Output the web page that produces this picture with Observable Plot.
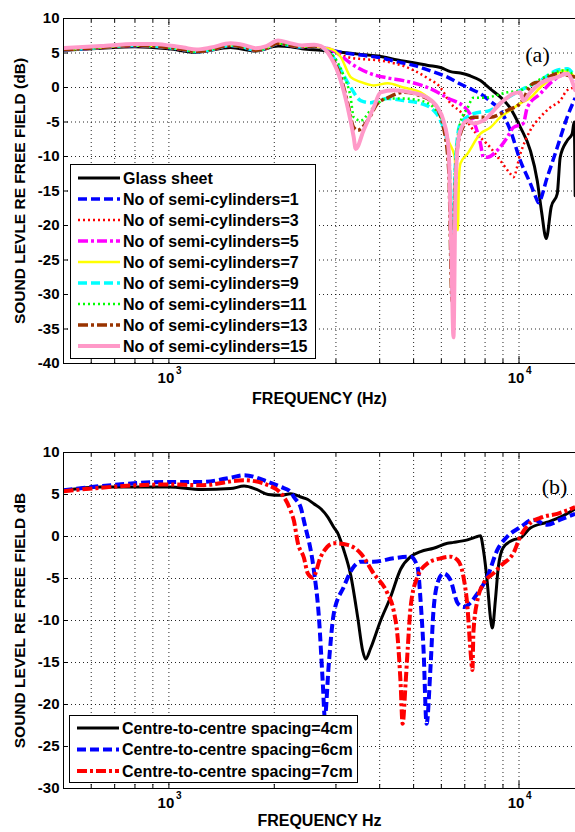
<!DOCTYPE html>
<html><head><meta charset="utf-8">
<script src="https://cdn.jsdelivr.net/npm/d3@7"></script>
<script src="https://cdn.jsdelivr.net/npm/@observablehq/plot@0.6"></script>
<style>
body{margin:0;background:#fff;}
#wrap{position:relative;width:575px;height:832px;overflow:hidden;background:#fff;}
#wrap svg{position:absolute;left:0;}
</style></head><body><div id="wrap"></div>
<script>
// ---------- shared axis values ----------
const freqDomain = [500, 14500];
const xGridTicks = [600,700,800,900,1000,2000,3000,4000,5000,6000,7000,8000,9000,10000];
const xMinorTicks = [600,700,800,900,2000,3000,4000,5000,6000,7000,8000,9000];
const xMajorTicks = [1000,10000];
const xTickBase = "10";
const xTickExp = ["3","4"];
const yTicksA = [-40,-35,-30,-25,-20,-15,-10,-5,0,5,10];
const yTicksB = [-30,-25,-20,-15,-10,-5,0,5,10];

// ---------- panel (a) data: [frequency Hz, dB] ----------
const lowBand = [[500,5.5],[560,5.6],[640,5.8],[720,6.0],[800,6.1],[900,6.0],[1000,5.8],[1100,5.5],[1200,5.2],[1320,5.5],[1500,6.1],[1650,5.8],[1770,5.4],[1900,5.7],[2050,6.4],[2230,6.1],[2400,5.9],[2600,6.0]];
const glassSheet = [[500,5.4],[640,5.7],[800,5.9],[1000,5.6],[1200,5.1],[1500,5.8],[1770,5.3],[2050,6.0],[2230,5.9],[2400,5.6],[2716,5.4],[3097,5.1],[3530,4.8],[4025,4.5],[4500,4.0],[5000,3.6],[5500,3.2],[5967,2.9],[6372,2.3],[6800,2.1],[7250,1.7],[7760,1.0],[8280,-0.2],[8850,-1.4],[9445,-3.0],[10086,-5.75],[10771,-9.1],[11276,-13.5],[11600,-18],[11962,-21.9],[12360,-17.3],[12860,-15.4],[13113,-10.1],[13729,-7.7],[14187,-6.7],[14374,-5],[14468,-15.7]];
const semi1 = [[2716,5.8],[3097,5.1],[3530,4.7],[4025,4.3],[4500,3.7],[5000,3.2],[5600,2.4],[6247,1.5],[6800,0.5],[7410,-0.4],[7758,-0.9],[8280,-2.0],[8845,-3.3],[9445,-6.2],[10086,-10.6],[10771,-13.9],[11276,-16.4],[11350,-16.7],[12040,-13],[12857,-8.7],[13729,-4.3],[14468,-1.5]];
const semi3 = [[2716,5.8],[2900,5.5],[3242,4.4],[3600,4.1],[4025,3.9],[5000,2.5],[5500,1.3],[5967,0],[6372,-2.3],[6800,-3.5],[7410,-6.2],[8283,-8.7],[8845,-10.6],[9445,-12.5],[9634,-13],[10086,-9.6],[10771,-6.2],[11500,-4.3],[12280,-2.9],[13113,-1.9],[13729,-0.4],[14468,0]];
const semi5 = [[2716,5.8],[2900,5.5],[3097,4.6],[3306,3.5],[3769,2.0],[4200,1.4],[4682,1.0],[5480,0],[6247,-1.5],[7125,-3.3],[7500,-5.5],[7758,-8.1],[7913,-10.1],[8123,-10.1],[8672,-9.1],[9262,-7.2],[9634,-5.8],[10287,-5.2],[10560,-2.9],[11500,-0.9],[12523,1.0],[13729,2.0],[14468,1.0]];
const semi7 = [[2716,5.8],[2900,5.6],[3097,4.4],[3306,1.5],[3530,0.8],[3844,0.3],[4214,0.6],[4682,0],[5234,-0.7],[5699,-2.3],[6086,-4.8],[6288,-7.7],[6550,-10],[6690,-20.7],[6740,-13],[6805,-11],[7125,-9.6],[7758,-6.7],[8283,-5.8],[8845,-4.3],[9445,-3.3],[10086,-2.3],[10771,-1.5],[11500,0],[12523,1.5],[13373,2.5],[14468,1.5]];
const semi9 = [[2716,5.8],[2900,4.9],[3097,2.5],[3306,0],[3530,-1.9],[3769,-2.2],[4214,-1.6],[4682,-1.9],[5234,-2.3],[5699,-3.3],[5967,-4.8],[6247,-8.1],[6372,-15],[6457,-31],[6540,-15],[6680,-7],[6805,-5.2],[7410,-3.8],[8283,-3.3],[9262,-1.5],[10086,-0.4],[11500,1.0],[12857,2.5],[13729,2.7],[14468,1.5]];
const semi11 = [[2716,5.8],[2900,5.0],[3158,1.7],[3306,-1.5],[3372,-4.3],[3530,-4.8],[3769,-3.3],[4214,-1.6],[4682,-1.6],[5234,-1.9],[5699,-2.9],[6086,-5.5],[6300,-10],[6440,-28],[6560,-12],[6805,-5],[7125,-3],[7410,-1.5],[7913,-1.5],[9262,-0.7],[10086,-0.4],[11500,1.2],[12857,2.3],[13729,2.5],[14468,1.3]];
const semi13 = [[2716,5.8],[2900,4.6],[3097,1.5],[3242,-2.3],[3372,-5.8],[3461,-6.2],[3696,-4.8],[3946,-2.3],[4214,-1.5],[4682,-0.7],[5234,-1.2],[5699,-2.3],[6086,-5.8],[6300,-12],[6440,-31],[6540,-18],[6700,-8],[7125,-4.8],[7410,-4.3],[8283,-4.3],[9262,-3.3],[10086,-2.3],[10984,0.6],[11500,0.8],[12857,2.0],[14468,1.5]];
const semi15 = [[500,5.7],[640,6.0],[800,6.3],[900,6.3],[1000,6.1],[1100,5.8],[1200,5.5],[1320,5.8],[1500,6.4],[1650,6.1],[1770,5.7],[1900,6.0],[2050,6.8],[2230,6.4],[2400,6.1],[2600,6.2],[2716,6.0],[2900,4.4],[3097,1.0],[3242,-2.9],[3372,-7.2],[3416,-8.9],[3600,-6.2],[3844,-2.9],[4025,-0.7],[4384,-0.4],[4902,-0.7],[5480,-1.5],[5851,-2.9],[6086,-4.8],[6288,-8.7],[6414,-25],[6499,-36.2],[6585,-15],[6672,-8.7],[6805,-6.2],[7125,-4.8],[7410,-5.2],[7913,-4.8],[8845,-2.3],[9634,-0.9],[10086,-0.7],[10287,-1.9],[10771,-0.7],[11500,0.6],[12857,1.5],[13729,2.0],[14468,-0.4]];
const labelsA = ["Glass sheet","No of semi-cylinders=1","No of semi-cylinders=3","No of semi-cylinders=5","No of semi-cylinders=7","No of semi-cylinders=9","No of semi-cylinders=11","No of semi-cylinders=13","No of semi-cylinders=15"];

// ---------- panel (b) data ----------
const spacing4 = [[500,5.5],[640,5.9],[1000,5.9],[1240,5.6],[1500,5.7],[1640,6.0],[1780,5.6],[1920,5.0],[2090,4.9],[2230,5.1],[2380,4.7],[2494,4.4],[2594,3.9],[2716,3.3],[2844,2.3],[2957,1.1],[3036,0.4],[3158,-1.6],[3306,-4.6],[3461,-9.6],[3577,-13.6],[3648,-14.6],[3769,-13.3],[4025,-10],[4298,-7.2],[4590,-3.9],[4902,-2.4],[5234,-1.8],[5699,-1.4],[6247,-0.8],[6499,-0.7],[7125,-0.4],[7606,0],[7758,0.1],[7913,-1.6],[8123,-5.6],[8283,-9.6],[8393,-10.9],[8560,-7.6],[8730,-3.6],[9021,-1.3],[9634,-0.4],[10086,-0.2],[10771,1.0],[12040,1.7],[13113,2.3],[14468,3.3]];
const spacing6 = [[500,5.5],[640,6.0],[1000,6.5],[1240,6.5],[1500,7.0],[1640,7.3],[1920,6.5],[2089,5.9],[2230,5.3],[2275,4.7],[2382,3.4],[2429,1.9],[2594,-4.0],[2681,-9.5],[2752,-17.5],[2788,-21.5],[2862,-15.2],[2957,-9.2],[3158,-6.0],[3372,-3.6],[3530,-3.0],[3844,-3.0],[4384,-2.6],[4902,-2.4],[5129,-3.6],[5234,-7.6],[5339,-13.6],[5445,-22.3],[5589,-15.5],[5699,-8.8],[5889,-5.2],[6086,-4.4],[6372,-5.2],[6672,-7.9],[6940,-8.4],[7265,-7.9],[7606,-6.8],[8123,-4.8],[8672,-1.6],[9262,0],[10086,1.1],[10984,2.0],[12040,1.4],[13113,2.0],[14468,2.7]];
const spacing7 = [[500,5.4],[1000,6.2],[1240,6.1],[1640,6.7],[1920,6.1],[2131,4.7],[2230,3.0],[2275,1.9],[2336,-0.8],[2429,-2.5],[2494,-4.4],[2577,-4.9],[2716,-2.4],[2957,-0.8],[3242,-1.0],[3530,-2.0],[3844,-4.4],[4214,-6.8],[4384,-8.8],[4501,-12],[4590,-17.5],[4651,-22.3],[4743,-17.5],[4806,-13.6],[4902,-8.4],[5129,-4.8],[5480,-3.2],[5967,-2.6],[6372,-2.4],[6672,-2.8],[6940,-4.8],[7125,-8.4],[7265,-13.5],[7362,-15.9],[7410,-11.4],[7606,-7.6],[7913,-5.6],[8449,-4.4],[9021,-3.2],[9400,-2.6],[9634,-2.0],[10086,0],[10771,1.6],[11652,2.3],[12857,2.7],[13729,3.1],[14468,3.5]];
const labelsB = ["Centre-to-centre spacing=4cm","Centre-to-centre spacing=6cm","Centre-to-centre spacing=7cm"];

// ---------- styles ----------
const seriesA = [
  {data: glassSheet, stroke:"#000000", w:3, dash:null},
  {data: lowBand.concat(semi1), stroke:"#0000ff", w:3.5, dash:"9,4"},
  {data: lowBand.concat(semi3), stroke:"#ff0000", w:2.5, dash:"2,3"},
  {data: lowBand.concat(semi5), stroke:"#ff00ff", w:3.5, dash:"10,3,3,3"},
  {data: lowBand.concat(semi7), stroke:"#ffff00", w:2.5, dash:null},
  {data: lowBand.concat(semi9), stroke:"#00ffff", w:3.5, dash:"9,4"},
  {data: lowBand.concat(semi11), stroke:"#00ff00", w:2.5, dash:"2,3"},
  {data: lowBand.concat(semi13), stroke:"#993300", w:3.5, dash:"10,3,3,3"},
  {data: semi15, stroke:"#ff99c8", w:4, dash:null}
];
const seriesB = [
  {data: spacing4, stroke:"#000000", w:3, dash:null},
  {data: spacing6, stroke:"#0000ff", w:4, dash:"9,4"},
  {data: spacing7, stroke:"#ff0000", w:4, dash:"10,3,3,3"}
];

const FONT = "'Liberation Sans', Arial, sans-serif";
const W = 575;

function makePanel({height, mt, mb, yTicks, series, yTitle, xTitle, tag, tagDx, tagDy, xTitleDy}) {
  const ml = 63, mr = 0;
  const plotH = height - mt - mb, plotW = W - ml - mr;
  const yDom = [yTicks[0], yTicks[yTicks.length-1]];
  const rows = s => s.data.map(([f,v]) => ({f, v}));
  const marks = [
    Plot.ruleY(yTicks.slice(1,-1), {stroke:"#000", strokeWidth:1, strokeDasharray:"1,3", strokeOpacity:0.85}),
    Plot.ruleX(xGridTicks, {stroke:"#000", strokeWidth:1, strokeDasharray:"1,3", strokeOpacity:0.85}),
    ...series.map(s => Plot.line(rows(s), {x:"f", y:"v", stroke:s.stroke, strokeWidth:s.w, strokeDasharray:s.dash,
      strokeLinecap: s.dash ? "butt" : "round", strokeLinejoin:"round", curve:"monotone-x", clip:true})),
    Plot.ruleY([yDom[0], yDom[1]], {stroke:"#000", strokeWidth:1}),
    Plot.ruleX([freqDomain[0]], {stroke:"#000", strokeWidth:1}),
    Plot.ruleX(xMinorTicks, {stroke:"#000", insetTop: plotH-4}),
    Plot.ruleX(xMajorTicks, {stroke:"#000", insetTop: plotH-7}),
    Plot.ruleX(xMinorTicks, {stroke:"#000", insetBottom: plotH-4}),
    Plot.ruleX(xMajorTicks, {stroke:"#000", insetBottom: plotH-7}),
    Plot.ruleY(yTicks, {stroke:"#000", insetRight: plotW-5}),
    Plot.text(yTicks, {y:d=>d, frameAnchor:"left", textAnchor:"end", dx:-4, text:d=>String(d), fontSize:15, fontWeight:"bold", fill:"#000"}),
    Plot.text(xMajorTicks, {x:d=>d, frameAnchor:"bottom", textAnchor:"middle", dx:-3, dy:19, text:()=>xTickBase, fontSize:15, fontWeight:"bold", fill:"#000"}),
    Plot.text(xMajorTicks, {x:d=>d, frameAnchor:"bottom", dx:7, dy:10.5, textAnchor:"start", text:(d,i)=>xTickExp[i], fontSize:10, fontWeight:"bold", fill:"#000"}),
    Plot.text([xTitle], {frameAnchor:"bottom", textAnchor:"middle", dy:xTitleDy, text:d=>d, fontSize:16, fontWeight:"bold", fill:"#000"}),
    Plot.text([yTitle], {frameAnchor:"left", textAnchor:"middle", dx:-43, rotate:-90, text:d=>d, fontSize:15.5, fontWeight:"bold", fill:"#000"}),
    Plot.text([tag], {frameAnchor:"top-right", textAnchor:"middle", dx:tagDx, dy:tagDy, text:d=>d, fontSize:22, fontFamily:"'Liberation Serif', 'Times New Roman', serif", fill:"#000"})
  ];
  return Plot.plot({
    width: W, height, marginTop: mt, marginBottom: mb, marginLeft: ml, marginRight: mr,
    x: {type:"log", domain: freqDomain, axis:null},
    y: {domain: yDom, axis:null},
    style: {fontFamily: FONT, background:"#fff", color:"#000", overflow:"visible"},
    marks
  });
}

const wrap = document.getElementById("wrap");
const svgA = makePanel({height:416, mt:18, mb:53, yTicks:yTicksA, series:seriesA,
  yTitle:"SOUND LEVLE RE FREE FIELD (dB)", xTitle:"FREQUENCY (Hz)", tag:"(a)", tagDx:-38, tagDy:28, xTitleDy:40});
svgA.style.top = "0px";
wrap.appendChild(svgA);
const svgB = makePanel({height:416, mt:36, mb:44, yTicks:yTicksB, series:seriesB,
  yTitle:"SOUND LEVEL RE FREE FIELD dB", xTitle:"FREQUENCY Hz", tag:"(b)", tagDx:-21, tagDy:26, xTitleDy:37});
svgB.style.top = "416px";
wrap.appendChild(svgB);

// ---------- legends (overlay) ----------
const leg = d3.select(wrap).append("svg").attr("width", W).attr("height", 832).style("top","0px").style("pointer-events","none");
function legend(x, y, w, h, y0, step, labels, series, textX) {
  leg.append("rect").attr("x", x+0.5).attr("y", y+0.5).attr("width", w).attr("height", h)
    .attr("fill","#fff").attr("stroke","#000").attr("stroke-width",1);
  labels.forEach((lab, i) => {
    const s = series[i], cy = y0 + i*step;
    leg.append("line").attr("x1", x+8).attr("x2", x+50).attr("y1", cy).attr("y2", cy)
      .attr("stroke", s.stroke).attr("stroke-width", s.w).attr("stroke-dasharray", s.dash);
    leg.append("text").attr("x", textX).attr("y", cy).attr("dy","0.36em")
      .attr("font-family", FONT).attr("font-size", 16).attr("font-weight","bold").attr("fill","#000").text(lab);
  });
}
legend(70, 164, 245, 194, 178, 21, labelsA, seriesA, 123);
legend(69, 715, 288, 67, 728, 21.5, labelsB, seriesB, 122);
</script></body></html>
